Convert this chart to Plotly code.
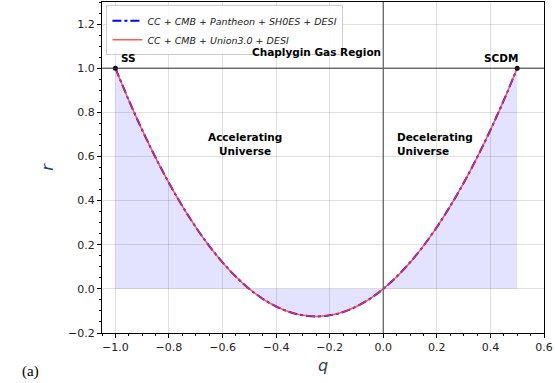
import plotly.graph_objects as go

# Data
q_vals = [-1.0, -0.95, -0.9, -0.85, -0.8, -0.75, -0.7, -0.65, -0.6, -0.55, -0.5,
          -0.45, -0.4, -0.35, -0.3, -0.25, -0.2, -0.15, -0.1, -0.05, 0.0,
          0.05, 0.1, 0.15, 0.2, 0.25, 0.3, 0.35, 0.4, 0.45, 0.5]
r_pantheon = [1.0, 0.855, 0.72, 0.595, 0.48, 0.375, 0.28, 0.195, 0.12, 0.055, 0.0,
              -0.045, -0.08, -0.105, -0.12, -0.125, -0.12, -0.105, -0.08, -0.045, 0.0,
              0.055, 0.12, 0.195, 0.28, 0.375, 0.48, 0.595, 0.72, 0.855, 1.0]
r_union = [1.0, 0.855, 0.72, 0.595, 0.48, 0.375, 0.28, 0.195, 0.12, 0.055, 0.0,
           -0.045, -0.08, -0.105, -0.12, -0.125, -0.12, -0.105, -0.08, -0.045, 0.0,
           0.055, 0.12, 0.195, 0.28, 0.375, 0.48, 0.595, 0.72, 0.855, 1.0]
series_names = ["CC + CMB + Pantheon + SH0ES + DESI", "CC + CMB + Union3.0 + DESI"]
point_q = [-1.0, 0.5]
point_r = [1.0, 1.0]
point_labels = ["SS", "SCDM"]
x_ticks = [-1.0, -0.8, -0.6, -0.4, -0.2, 0.0, 0.2, 0.4, 0.6]
y_ticks = [-0.2, 0.0, 0.2, 0.4, 0.6, 0.8, 1.0, 1.2]

FONT = "DejaVu Sans"
fig = go.Figure()

# shaded region between curve and r = 0
fig.add_trace(go.Scatter(x=q_vals, y=r_pantheon, mode="lines", line=dict(width=0, shape="spline"),
                         fill="tozeroy", fillcolor="rgba(0,0,255,0.11)",
                         showlegend=False, hoverinfo="skip"))

fig.add_trace(go.Scatter(x=q_vals, y=r_pantheon, mode="lines",
                         line=dict(color="blue", width=2, dash="dashdot", shape="spline"),
                         name="<i>" + series_names[0] + "</i>"))
fig.add_trace(go.Scatter(x=q_vals, y=r_union, mode="lines",
                         line=dict(color="rgba(255,60,60,0.85)", width=1.5, shape="spline"),
                         name="<i>" + series_names[1] + "</i>"))

fig.add_trace(go.Scatter(x=point_q, y=point_r, mode="markers",
                         marker=dict(color="black", size=5), showlegend=False))

# reference lines
fig.add_hline(y=1.0, line=dict(color="#333333", width=1), layer="above")
fig.add_vline(x=0.0, line=dict(color="#666666", width=1.3), layer="above")

ann = [
    dict(x=point_q[0] + 0.012, y=point_r[0] + 0.01, text="<b>" + point_labels[0] + "</b>",
         xanchor="left", yanchor="bottom"),
    dict(x=point_q[1] - 0.06, y=point_r[1] + 0.01, text="<b>" + point_labels[1] + "</b>",
         xanchor="center", yanchor="bottom"),
    dict(x=-0.25, y=1.075, text="<b>Chaplygin Gas Region</b>", xanchor="center", yanchor="middle"),
    dict(x=-0.515, y=0.655, text="<b>Accelerating<br>Universe</b>", xanchor="center",
         yanchor="middle", align="center"),
    dict(x=0.043, y=0.655, text="<b>Decelerating<br>Universe</b>", xanchor="left",
         yanchor="middle", align="left"),
]
for a in ann:
    fig.add_annotation(xref="x", yref="y", showarrow=False,
                       font=dict(family=FONT, size=10.5, color="black"), **a)

fig.add_annotation(xref="paper", yref="paper", x=-0.185, y=-0.085, xanchor="left", yanchor="top",
                   text="(a)", showarrow=False,
                   font=dict(family="Liberation Serif", size=15, color="black"))

axis_common = dict(showline=True, linecolor="black", linewidth=1, mirror=True,
                   showgrid=True, gridcolor="rgba(0,0,0,0.12)", gridwidth=1,
                   zeroline=False, ticks="outside", ticklen=4, tickcolor="black",
                   tickfont=dict(family=FONT, size=11, color="#222222"))

fig.update_layout(
    width=555, height=383,
    margin=dict(l=102, r=11, t=2, b=50),
    paper_bgcolor="white", plot_bgcolor="white",
    xaxis=dict(range=[-1.05, 0.6], tickvals=x_ticks, tickformat=".1f",
               minor=dict(dtick=0.05, ticks="outside", ticklen=2, tickcolor="black", showgrid=False),
               title=dict(text="<i>q</i>", font=dict(family=FONT, size=16), standoff=6),
               **axis_common),
    yaxis=dict(range=[-0.2, 1.3], tickvals=y_ticks, tickformat=".1f",
               minor=dict(dtick=0.05, ticks="outside", ticklen=2, tickcolor="black", showgrid=False),
               title=dict(text="<i>r</i>", font=dict(family=FONT, size=16), standoff=10),
               **axis_common),
    legend=dict(x=0.01, y=0.99, xanchor="left", yanchor="top",
                bgcolor="rgba(255,255,255,0.85)", bordercolor="#cccccc", borderwidth=1,
                font=dict(family=FONT, size=9.5, color="#222222"),
                tracegroupgap=0, itemwidth=30),
    showlegend=True,
)

fig.write_html("out.html")
